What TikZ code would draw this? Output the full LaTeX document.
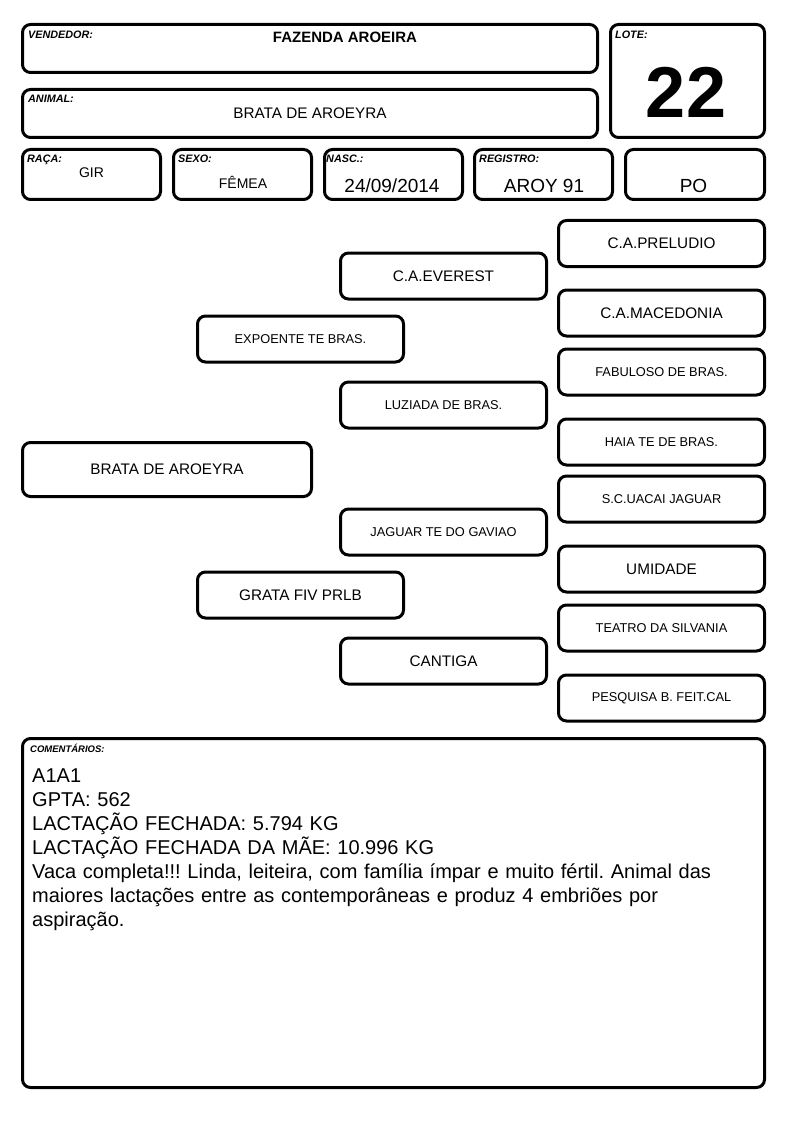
\documentclass[tikz,border=0pt]{standalone}
\usepackage{fontspec}
\setmainfont{Liberation Sans}
\usepackage{tikz}
\usepackage{xcolor}
\definecolor{ColLine}{RGB}{0,0,0}
\frenchspacing
\tikzstyle{FieldBox}=[draw=ColLine,rectangle,rounded corners=8pt,line width=3pt,inner sep=0pt]
\tikzstyle{PedBox}=[FieldBox,minimum width=206,minimum height=46,align=center]
\tikzstyle{BigName}=[PedBox,font=\fontsize{15.3}{18}\selectfont]
\tikzstyle{SmallName}=[PedBox,font=\fontsize{12.8}{15}\selectfont]
\tikzstyle{CellBox}=[FieldBox,minimum width=138,minimum height=50]
\tikzstyle{FieldLabel}=[anchor=base west,inner sep=0pt,font=\fontsize{10.8}{12}\selectfont\bfseries\itshape]
\tikzstyle{FieldValue}=[anchor=base,inner sep=0pt]

\begin{document}
\begin{tikzpicture}[x=1pt,y=-1pt]
    \useasboundingbox (0,0) rectangle (794,1123);
    % header
    \node[FieldBox,minimum width=575,minimum height=48](vend)at(310,48.5){};
    \node[FieldBox,minimum width=575,minimum height=48](anim)at(310,113.5){};
    \node[FieldBox,minimum width=154,minimum height=113](lote)at(687.5,81){};
    \node[CellBox](raca)at(91.5,174.5){};
    \node[CellBox](sexo)at(242.5,174.5){};
    \node[CellBox](nasc)at(393.5,174.5){};
    \node[CellBox](reg)at(543.5,174.5){};
    \node[CellBox,minimum width=139](cat)at(695,174.5){};
    \node[FieldLabel](vendL)at(28,39){VENDEDOR:};
    \node[FieldLabel](animL)at(28,103){ANIMAL:};
    \node[FieldLabel](loteL)at(615,39){LOTE:};
    \node[FieldLabel](racaL)at(27,163){RAÇA:};
    \node[FieldLabel](sexoL)at(178,163){SEXO:};
    \node[FieldLabel](nascL)at(326,163){NASC.:};
    \node[FieldLabel](regL)at(479,163){REGISTRO:};
    \node[FieldValue,font=\fontsize{15}{18}\selectfont\bfseries](vendV)at(345,43){FAZENDA AROEIRA};
    \node[FieldValue,font=\fontsize{15.3}{18}\selectfont](animV)at(310,119){BRATA DE AROEYRA};
    \node[FieldValue,font=\fontsize{72}{80}\selectfont\bfseries](loteV)at(686,118){22};
    \node[FieldValue,font=\fontsize{14}{16}\selectfont](racaV)at(91.5,178){GIR};
    \node[FieldValue,font=\fontsize{14}{16}\selectfont](sexoV)at(243,189){FÊMEA};
    \node[FieldValue,font=\fontsize{19}{22}\selectfont](nascV)at(392,193){24/09/2014};
    \node[FieldValue,font=\fontsize{19}{22}\selectfont](regV)at(544,193){AROY 91};
    \node[FieldValue,font=\fontsize{19}{22}\selectfont](catV)at(693.5,193){PO};
    % pedigree
    \node[BigName,minimum width=289,minimum height=54](self)at(167,469.5){BRATA DE AROEYRA};
    \node[SmallName](pai)at(300.5,339){EXPOENTE TE BRAS.};
    \node[BigName](mae)at(300.5,595){GRATA FIV PRLB};
    \node[BigName](avoPP)at(443.5,276){C.A.EVEREST};
    \node[SmallName](avoPM)at(443.5,405){LUZIADA DE BRAS.};
    \node[SmallName](avoMP)at(443.5,532){JAGUAR TE DO GAVIAO};
    \node[BigName](avoMM)at(443.5,661){CANTIGA};
    \node[BigName](bisA)at(661.5,243.5){C.A.PRELUDIO};
    \node[BigName](bisB)at(661.5,313){C.A.MACEDONIA};
    \node[SmallName](bisC)at(661.5,372){FABULOSO DE BRAS.};
    \node[SmallName](bisD)at(661.5,442){HAIA TE DE BRAS.};
    \node[SmallName](bisE)at(661.5,499){S.C.UACAI JAGUAR};
    \node[BigName](bisF)at(661.5,569){UMIDADE};
    \node[SmallName](bisG)at(661.5,628){TEATRO DA SILVANIA};
    \node[SmallName](bisH)at(661.5,698){PESQUISA B. FEIT.CAL};
    % comments
    \node[FieldBox,minimum width=742,minimum height=349](coment)at(393.5,913){};
    \node[FieldLabel,font=\fontsize{9.5}{11}\selectfont\bfseries\itshape](comentL)at(30,752){COMENTÁRIOS:};
    \node[anchor=base west,inner sep=0pt,text width=740,align=left,
        font=\fontsize{20}{24}\selectfont](comentV)at(32,782){A1A1\\
        GPTA: 562\\
        LACTAÇÃO FECHADA: 5.794 KG\\
        LACTAÇÃO FECHADA DA MÃE: 10.996 KG\\
        Vaca completa!!! Linda, leiteira, com família ímpar e muito fértil. Animal das\\
        maiores lactações entre as contemporâneas e produz 4 embriões por\\
        aspiração.};
\end{tikzpicture}
\end{document}
